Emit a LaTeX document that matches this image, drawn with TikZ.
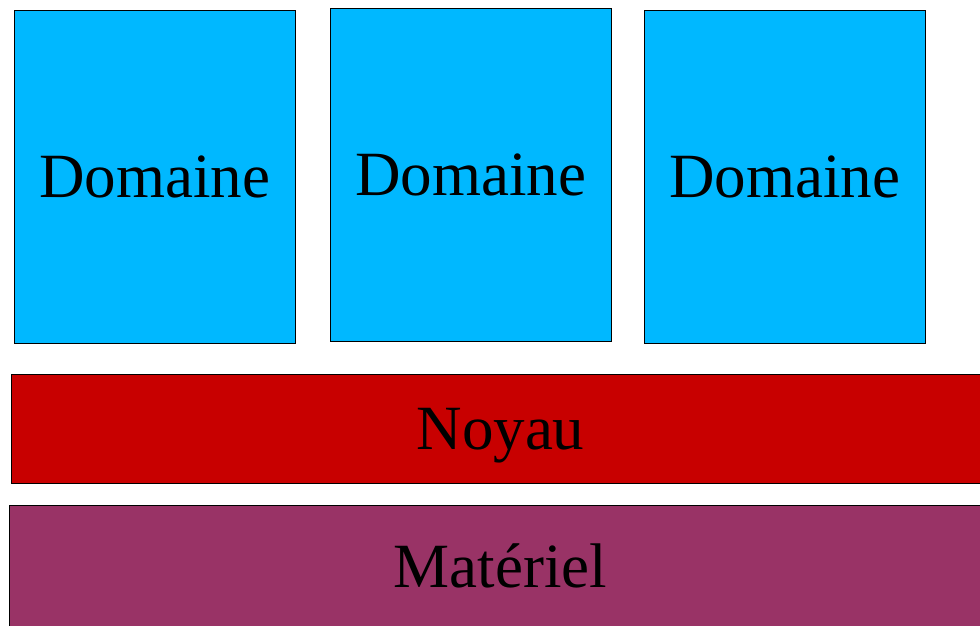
\documentclass[tikz,border=0pt]{standalone}
\usepackage{fontspec}
\setmainfont{Liberation Serif}
\definecolor{domcyan}{HTML}{00B8FF}
\definecolor{noyred}{HTML}{C80000}
\definecolor{matpurple}{HTML}{993366}
\tikzset{
  box/.style={draw=black, line width=1pt, rectangle, inner sep=0pt,
    text depth=0pt, font=\fontsize{63}{70}\selectfont},
  domainbox/.style={box, fill=domcyan, minimum width=281pt, minimum height=333pt},
  layerbox/.style={box}
}
\begin{document}
\begin{tikzpicture}[x=1pt,y=-1pt]
  \useasboundingbox (0,0) rectangle (980,625);
  \clip (0,0) rectangle (980,625);
  \node[domainbox] (d1) at (154.5,176.5) {Domaine};
  \node[domainbox] (d2) at (470.5,174.5) {Domaine};
  \node[domainbox] (d3) at (784.5,176.5) {Domaine};
  \node[layerbox, fill=noyred, minimum width=979pt, minimum height=109pt] (noyau) at (500.5,428.5) {Noyau};
  \node[layerbox, fill=matpurple, minimum width=983pt, minimum height=122pt] (materiel) at (500.5,566) {Matériel};
\end{tikzpicture}
\end{document}
